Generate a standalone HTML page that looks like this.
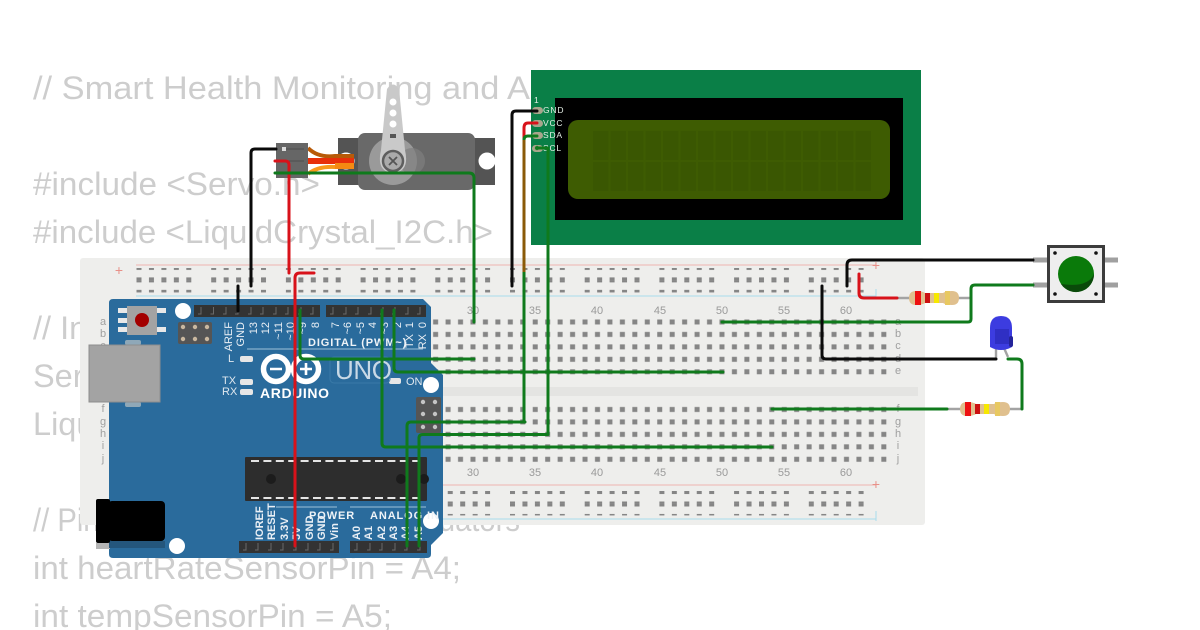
<!DOCTYPE html>
<html><head><meta charset="utf-8"><style>
html,body{margin:0;padding:0;background:#fff;width:1200px;height:630px;overflow:hidden}
svg{display:block}
.c{font:32.5px "Liberation Sans",sans-serif;fill:#cdcdcd}
.n{font:11px "Liberation Sans",sans-serif;fill:#9a9a9a;text-anchor:middle}
.l{font:11px "Liberation Sans",sans-serif;fill:#a0a0a0;text-anchor:middle}
.w{fill:none;stroke-width:3;stroke-linecap:round;stroke-linejoin:round}
.g{stroke:#0f7a1c}.r{stroke:#d8121a}.k{stroke:#0a0a0a}
.v{font:11px "Liberation Sans",sans-serif;fill:#e9eff5;text-anchor:end}
.b{font:bold 11px "Liberation Sans",sans-serif;fill:#e9eff5;text-anchor:start}
.t{font:bold 11px "Liberation Sans",sans-serif;fill:#eef3f7;letter-spacing:.9px}
.p{font:8.5px "Liberation Sans",sans-serif;fill:#e4efe6;letter-spacing:.8px}
</style></head><body>
<svg width="1200" height="630" viewBox="0 0 1200 630" xmlns="http://www.w3.org/2000/svg">
<defs>
<pattern id="h" patternUnits="userSpaceOnUse" x="466.78" y="315.78" width="12.45" height="12.45"><rect x="3.7" y="3.7" width="5" height="5" fill="#858585"/></pattern>
<pattern id="h2" patternUnits="userSpaceOnUse" x="466.78" y="403.28" width="12.45" height="12.45"><rect x="3.7" y="3.7" width="5" height="5" fill="#858585"/></pattern>
<pattern id="rail" patternUnits="userSpaceOnUse" x="136" y="0" width="74.7" height="12.45"><rect x="0.5" y="3.5" width="5" height="5" fill="#858585"/><rect x="12.95" y="3.5" width="5" height="5" fill="#858585"/><rect x="25.4" y="3.5" width="5" height="5" fill="#858585"/><rect x="37.85" y="3.5" width="5" height="5" fill="#858585"/><rect x="50.3" y="3.5" width="5" height="5" fill="#858585"/></pattern>
<pattern id="lcdg" patternUnits="userSpaceOnUse" x="592" y="130" width="17.5" height="31"><rect x="1" y="1" width="15.5" height="29" fill="#3a5702"/></pattern>
</defs>

<!-- background code text -->
<text class="c" x="33" y="99" textLength="497" lengthAdjust="spacingAndGlyphs">// Smart Health Monitoring and A</text>
<text class="c" x="33" y="195" textLength="287" lengthAdjust="spacingAndGlyphs">#include &lt;Servo.h&gt;</text>
<text class="c" x="33" y="243" textLength="460" lengthAdjust="spacingAndGlyphs">#include &lt;LiquidCrystal_I2C.h&gt;</text>
<text class="c" x="33" y="339">// In</text>
<text class="c" x="33" y="387">Ser</text>
<text class="c" x="33" y="435">Liqu</text>
<text class="c" x="33" y="531" textLength="487" lengthAdjust="spacingAndGlyphs">// Pin definitions for sensors/actuators</text>
<text class="c" x="33" y="579" textLength="428" lengthAdjust="spacingAndGlyphs">int heartRateSensorPin = A4;</text>
<text class="c" x="33" y="627" textLength="359" lengthAdjust="spacingAndGlyphs">int tempSensorPin = A5;</text>

<!-- breadboard -->
<rect x="80" y="258" width="845" height="267" rx="3" fill="#eeeeec"/>
<rect x="94" y="387" width="824" height="9" fill="#e4e4e2"/>
<path d="M136 265H876M136 485H876" stroke="#efb4b0" stroke-width="1"/>
<path d="M136 296H876M136 519H876" stroke="#a8dcec" stroke-width="1"/>
<text x="119" y="275" font-family="Liberation Sans" font-size="14" fill="#e89088" text-anchor="middle">+</text>
<text x="876" y="270" font-family="Liberation Sans" font-size="14" fill="#e89088" text-anchor="middle">+</text>
<text x="876" y="489" font-family="Liberation Sans" font-size="14" fill="#e89088" text-anchor="middle">+</text>
<path d="M876 289v10M876 511v10" stroke="#a8dcec"/>
<rect x="136" y="268" width="728" height="12.45" fill="url(#rail)"/>
<rect x="136" y="280.45" width="728" height="12" fill="url(#rail)"/>
<rect x="136" y="491" width="728" height="12.45" fill="url(#rail)"/>
<rect x="136" y="503.45" width="728" height="12" fill="url(#rail)"/>
<rect x="105" y="315.8" width="785" height="62.2" fill="url(#h)"/>
<rect x="105" y="403.3" width="785" height="62.2" fill="url(#h2)"/>
<g class="n">
<text x="473" y="314">30</text><text x="535" y="314">35</text><text x="597" y="314">40</text><text x="660" y="314">45</text><text x="722" y="314">50</text><text x="784" y="314">55</text><text x="846" y="314">60</text>
<text x="473" y="476">30</text><text x="535" y="476">35</text><text x="597" y="476">40</text><text x="660" y="476">45</text><text x="722" y="476">50</text><text x="784" y="476">55</text><text x="846" y="476">60</text>
</g>
<g class="l">
<text x="103" y="325">a</text><text x="103" y="337">b</text><text x="103" y="349">c</text><text x="103" y="362">d</text><text x="103" y="374">e</text>
<text x="103" y="412">f</text><text x="103" y="425">g</text><text x="103" y="437">h</text><text x="103" y="449">i</text><text x="103" y="462">j</text>
<text x="898" y="325">a</text><text x="898" y="337">b</text><text x="898" y="349">c</text><text x="898" y="362">d</text><text x="898" y="374">e</text>
<text x="898" y="412">f</text><text x="898" y="425">g</text><text x="898" y="437">h</text><text x="898" y="449">i</text><text x="898" y="462">j</text>
</g>

<!-- Arduino -->
<path d="M113 299H423L431 307V363L443 375V533L431 545V554Q431 558 427 558H113Q109 558 109 554V303Q109 299 113 299Z" fill="#2a6b9c"/>
<rect x="96" y="543" width="14" height="6" fill="#b5b5b5"/>
<rect x="109" y="541" width="56" height="7" fill="#24567c"/>
<path d="M118 308h9v5h-9zM118 318h9v5h-9zM118 327h9v5h-9zM157 308h9v5h-9zM157 327h9v5h-9z" fill="#e8e8e8"/>
<rect x="127" y="306" width="30" height="29" fill="#a3a3a3"/>
<circle cx="142" cy="320" r="7" fill="#a30000"/>
<circle cx="183" cy="311" r="8" fill="#fff"/><circle cx="431" cy="385" r="8" fill="#fff"/><circle cx="431" cy="521" r="8" fill="#fff"/><circle cx="177" cy="546" r="8" fill="#fff"/>
<rect x="178" y="322" width="34" height="22" rx="2" fill="#555"/>
<g fill="#c9b8a0"><circle cx="183" cy="327" r="2.2"/><circle cx="195" cy="327" r="2.2"/><circle cx="207" cy="327" r="2.2"/><circle cx="183" cy="339" r="2.2"/><circle cx="195" cy="339" r="2.2"/><circle cx="207" cy="339" r="2.2"/></g>
<rect x="416" y="397" width="25" height="36" rx="2" fill="#555"/>
<g fill="#c4c4c4"><circle cx="423" cy="402" r="2.2"/><circle cx="435" cy="402" r="2.2"/><circle cx="423" cy="414" r="2.2"/><circle cx="435" cy="414" r="2.2"/><circle cx="423" cy="427" r="2.2"/><circle cx="435" cy="427" r="2.2"/></g>
<rect x="125" y="340" width="16" height="5" rx="2" fill="#8fa8b8"/><rect x="125" y="402" width="16" height="5" rx="2" fill="#8fa8b8"/>
<rect x="89" y="345" width="71" height="57" fill="#a3a3a3" stroke="#8e8e8e"/>
<rect x="96" y="499" width="14" height="44" rx="2" fill="#000"/><rect x="108" y="501" width="57" height="40" rx="4" fill="#000"/>
<!-- headers -->
<g fill="#333"><rect x="194" y="305" width="126" height="12"/><rect x="326" y="305" width="100" height="12"/><rect x="239" y="541" width="100" height="12"/><rect x="350" y="541" width="77" height="12"/></g>
<path d="M201 307v7h-3M213.5 307v7h-3M226 307v7h-3M238 307v7h-3M251 307v7h-3M263 307v7h-3M276 307v7h-3M288 307v7h-3M301 307v7h-3M313 307v7h-3M333 307v7h-3M346 307v7h-3M358 307v7h-3M371 307v7h-3M383 307v7h-3M395 307v7h-3M408 307v7h-3M420 307v7h-3M246 543v7h-3M258 543v7h-3M271 543v7h-3M283 543v7h-3M296 543v7h-3M308 543v7h-3M320 543v7h-3M333 543v7h-3M357 543v7h-3M370 543v7h-3M382 543v7h-3M395 543v7h-3M407 543v7h-3M420 543v7h-3" stroke="#6a6a6a" fill="none"/>
<!-- labels -->
<g class="v">
<text transform="translate(232,322) rotate(-90)">AREF</text>
<text transform="translate(244,322) rotate(-90)">GND</text>
<text transform="translate(257,322) rotate(-90)">13</text>
<text transform="translate(269,322) rotate(-90)">12</text>
<text transform="translate(282,322) rotate(-90)">~11</text>
<text transform="translate(294,322) rotate(-90)">~10</text>
<text transform="translate(306,322) rotate(-90)">~9</text>
<text transform="translate(319,322) rotate(-90)">8</text>
<text transform="translate(339,322) rotate(-90)">7</text>
<text transform="translate(351,322) rotate(-90)">~6</text>
<text transform="translate(364,322) rotate(-90)">~5</text>
<text transform="translate(376,322) rotate(-90)">4</text>
<text transform="translate(388,322) rotate(-90)">~3</text>
<text transform="translate(401,322) rotate(-90)">2</text>
<text transform="translate(413,322) rotate(-90)">1</text>
<text transform="translate(426,322) rotate(-90)">0</text>
<text transform="translate(413,334) rotate(-90)">TX</text>
<text transform="translate(426,334) rotate(-90)">RX</text>
</g>
<g class="b">
<text transform="translate(263,540) rotate(-90)">IOREF</text>
<text transform="translate(275,540) rotate(-90)">RESET</text>
<text transform="translate(288,540) rotate(-90)">3.3V</text>
<text transform="translate(300,540) rotate(-90)">5V</text>
<text transform="translate(313,540) rotate(-90)">GND</text>
<text transform="translate(325,540) rotate(-90)">GND</text>
<text transform="translate(338,540) rotate(-90)">Vin</text>
<text transform="translate(360,540) rotate(-90)">A0</text>
<text transform="translate(372,540) rotate(-90)">A1</text>
<text transform="translate(385,540) rotate(-90)">A2</text>
<text transform="translate(397,540) rotate(-90)">A3</text>
<text transform="translate(409,540) rotate(-90)">A4</text>
<text transform="translate(422,540) rotate(-90)">A5</text>
</g>
<text class="t" x="308" y="346">DIGITAL (PWM~)</text>
<text class="t" x="309" y="519">POWER</text>
<text class="t" x="370" y="519">ANALOG IN</text>
<path d="M247 349H423M276 507H337M350 507H426" stroke="#9fc0d8" fill="none"/>
<rect x="240" y="356" width="13" height="6" rx="2" fill="#e6e6e6"/><rect x="240" y="379" width="13" height="6" rx="2" fill="#e6e6e6"/><rect x="240" y="389" width="13" height="6" rx="2" fill="#e6e6e6"/><rect x="389" y="378" width="12" height="6" rx="2" fill="#e6e6e6"/>
<g font-family="Liberation Sans" font-size="11" fill="#dfe8ef"><text x="228" y="362">L</text><text x="222" y="384">TX</text><text x="222" y="395">RX</text><text x="406" y="385">ON</text></g>
<!-- logo -->
<circle cx="276" cy="369" r="12.5" fill="none" stroke="#fff" stroke-width="5.5"/><circle cx="306" cy="369" r="12.5" fill="none" stroke="#fff" stroke-width="5.5"/>
<path d="M270 369h12M300 369h12M306 363v12" stroke="#fff" stroke-width="2.6"/>
<text x="260" y="398" font-family="Liberation Sans" font-weight="700" font-size="14" fill="#fff" textLength="69">ARDUINO</text>
<rect x="330" y="357" width="60" height="26" rx="4" fill="none" stroke="#3a7aa8"/>
<text x="335" y="379" font-family="Liberation Sans" font-size="26" fill="#c8d9e6" textLength="57">UNO</text>
<!-- chip -->
<rect x="245" y="457" width="182" height="44" rx="1" fill="#2d2d2d"/>
<path d="M251 461H423M251 498H423" stroke="#e4e4e4" stroke-width="2" stroke-dasharray="8 4.4"/>
<circle cx="271" cy="479" r="5" fill="#1c1c1c"/><circle cx="401" cy="479" r="5" fill="#1c1c1c"/><circle cx="424" cy="479" r="5" fill="#1c1c1c"/>

<!-- LCD -->
<rect x="531" y="70" width="390" height="175" fill="#0a7f47"/>
<rect x="555" y="98" width="348" height="122" fill="#000"/>
<rect x="568" y="120" width="322" height="79" rx="10" fill="#3e5c02"/>
<rect x="592" y="130" width="280" height="62" fill="url(#lcdg)"/>
<g fill="#a8a58c"><rect x="532" y="107" width="11" height="7" rx="3.5"/><rect x="532" y="120" width="11" height="7" rx="3.5"/><rect x="532" y="132" width="11" height="7" rx="3.5"/><rect x="532" y="145" width="11" height="7" rx="3.5"/></g>
<circle cx="537" cy="148" r="2.2" fill="#2d7f2a"/>
<g class="p"><text x="534" y="103">1</text><text x="543" y="113">GND</text><text x="543" y="126">VCC</text><text x="543" y="138">SDA</text><text x="543" y="151">SCL</text></g>

<!-- servo -->
<rect x="338" y="138" width="157" height="47" fill="#545454"/>
<circle cx="346" cy="161" r="8.5" fill="#fff"/><circle cx="487" cy="161" r="8.5" fill="#fff"/>
<rect x="358" y="133" width="117" height="57" rx="7" fill="#696969"/>
<circle cx="393" cy="161" r="24" fill="#9a9a9a"/><circle cx="412" cy="161" r="13" fill="#7f7f7f" opacity=".7"/>
<path d="M387 89Q393 80 399 89L405 150Q410 172 393 173Q376 172 381 150Z" fill="#c9c9c9"/>
<circle cx="393" cy="102" r="3.5" fill="#fff"/><circle cx="393" cy="113" r="3.5" fill="#fff"/><circle cx="393" cy="124" r="3.5" fill="#fff"/><rect x="390" y="134" width="6" height="4" fill="#555"/>
<circle cx="393" cy="161" r="10" fill="#aaa" stroke="#5e5e5e" stroke-width="2.5"/>
<path d="M389 157l8 8M397 157l-8 8" stroke="#555" stroke-width="1.8"/>
<path d="M308 148Q318 158 335 156H354" stroke="#b85a08" stroke-width="4" fill="none"/>
<path d="M308 174Q318 166 335 167H354" stroke="#f79a1c" stroke-width="4" fill="none"/>
<path d="M308 161H354" stroke="#e8300a" stroke-width="6" fill="none"/>
<path d="M335 163H354V169H335Z" fill="#f58a12"/>
<rect x="276" y="143" width="32" height="35" fill="#666"/>
<rect x="282" y="147" width="4" height="4" fill="#ddd"/><path d="M286 149H304M286 161H304M286 173H304" stroke="#4d4d4d"/>

<!-- button -->
<path d="M1033 260h14M1033 285h14M1105 260h13M1105 285h13" stroke="#a0a0a0" stroke-width="5"/>
<rect x="1048.5" y="246.5" width="55" height="55" fill="#eeeeee" stroke="#3c3c3c" stroke-width="3"/>
<circle cx="1076" cy="274" r="18" fill="#0a7a0a"/><path d="M1061 284A18 18 0 0 0 1094 274Q1088 288 1061 284Z" fill="#0a4a0a"/>
<g fill="#111"><circle cx="1055" cy="253" r="1.8"/><circle cx="1096" cy="253" r="1.8"/><circle cx="1055" cy="294" r="1.8"/><circle cx="1096" cy="294" r="1.8"/></g>

<!-- resistors -->
<path d="M897 298H971" stroke="#a3a3a3" stroke-width="2.4"/>
<path d="M947 409H1022" stroke="#a3a3a3" stroke-width="2.4"/>
<g><path d="M916 291Q922 291 925 293H943Q946 291 952 291Q959 291 959 298Q959 305 952 305Q946 305 943 303H925Q922 305 916 305Q909 305 909 298Q909 291 916 291Z" fill="#e0c08e"/><rect x="915" y="291" width="6" height="14" fill="#ee1111"/><rect x="925" y="293" width="5" height="10" fill="#cc1111"/><rect x="934" y="293" width="5" height="10" fill="#f6e800"/><rect x="945" y="291" width="5" height="14" fill="#e8c860"/></g>
<g><path d="M967 402Q973 402 976 404H994Q997 402 1003 402Q1010 402 1010 409Q1010 416 1003 416Q997 416 994 414H976Q973 416 967 416Q960 416 960 409Q960 402 967 402Z" fill="#e0c08e"/><rect x="965" y="402" width="6" height="14" fill="#ee1111"/><rect x="975" y="404" width="5" height="10" fill="#cc1111"/><rect x="984" y="404" width="5" height="10" fill="#f6e800"/><rect x="995" y="402" width="5" height="14" fill="#e8c860"/></g>

<!-- LED -->
<path d="M996 348v11M1004 348l4 9" stroke="#a3a3a3" stroke-width="2.4" fill="none"/>
<path d="M990 328Q990 316 1001 316Q1012 316 1012 328V347Q1001 353 990 347Z" fill="#3c3ce0"/>
<rect x="1009" y="336" width="4" height="11" rx="2" fill="#23239a"/>
<rect x="995" y="329" width="14" height="15" fill="#2a2ab8" opacity=".7"/>

<!-- wires -->
<path class="w k" d="M238 311V286"/>
<path class="w k" d="M276 149H255Q251 149 251 153V286"/>
<path class="w r" d="M275 161H285Q289 161 289 165V273"/>
<path class="w g" d="M275 173H469Q474 173 474 178V322"/>
<path class="w k" d="M537 111H516Q512 111 512 115V286"/>
<path class="w r" d="M537 123H528Q524 123 524 128V274"/>
<path class="w g" d="M537 136H528Q524 136 524 140V422"/>
<path d="M524 140V272" stroke="#8a5a08" stroke-width="3" fill="none"/>
<path class="w g" d="M537 148H548V434"/>
<path class="w r" d="M295 546V278Q295 273 300 273H314"/>
<path class="w g" d="M300 310V355Q300 359 304 359H474"/>
<path class="w g" d="M394 310V368Q394 372 398 372H723"/>
<path class="w g" d="M382 310V443Q382 447 386 447H772"/>
<path class="w g" d="M407 546V426Q407 422 411 422H525"/>
<path class="w g" d="M419 546V438Q419 434.500 423 434.500H548"/>
<path class="w g" d="M722 322H968Q971 322 971 319V289Q971 285 975 285H1033"/>
<path class="w r" d="M859 274V293Q859 298 864 298H897"/>
<path class="w k" d="M847 286V265Q847 260 852 260H1033"/>
<path class="w k" d="M822 286V355Q822 359 826 359H996"/>
<path class="w g" d="M1008 359H1017Q1022 359 1022 364V409"/>
<path class="w g" d="M772 409H947"/>
</svg>
</body></html>
